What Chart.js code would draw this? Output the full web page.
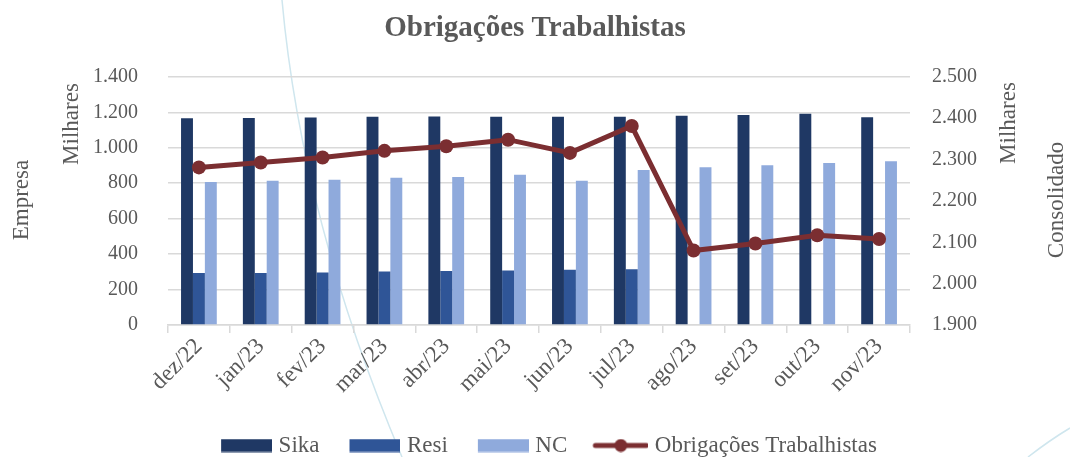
<!DOCTYPE html>
<html>
<head>
<meta charset="utf-8">
<script src="https://cdn.jsdelivr.net/npm/chart.js@4/dist/chart.umd.min.js"></script>
<style>
  html, body { margin: 0; padding: 0; background: #ffffff; }
  #wrap { width: 1070px; height: 457px; }
</style>
</head>
<body>
<div id="wrap"><canvas id="c" width="1070" height="457"></canvas></div>
<script>
const categories = ['dez/22','jan/23','fev/23','mar/23','abr/23','mai/23','jun/23','jul/23','ago/23','set/23','out/23','nov/23'];
const sika  = [1166, 1168, 1170, 1174, 1176, 1174, 1174, 1174, 1180, 1185, 1191, 1172];
const resi  = [293, 293, 296, 302, 304, 308, 312, 315, null, null, null, null];
const nc    = [806, 813, 820, 830, 835, 847, 813, 875, 890, 901, 914, 924];
const obrigacoes = [2281, 2293, 2305, 2321, 2332, 2348, 2316, 2381, 2080, 2097, 2117, 2108];
const leftTicks = [0, 200, 400, 600, 800, 1000, 1200, 1400];
const rightTicks = [1900, 2000, 2100, 2200, 2300, 2400, 2500];
const seriesNames = ['Sika', 'Resi', 'NC', 'Obrigações Trabalhistas'];
const titleText = 'Obrigações Trabalhistas';

const FONT = "'Liberation Serif', 'Times New Roman', serif";
const GRAY = '#595959';
const GRID = '#d9d9d9';
const COLORS = { sika: '#1F3864', resi: '#2F5597', nc: '#8FAADC', line: '#7B2E31' };

Chart.defaults.font.family = FONT;
Chart.defaults.color = GRAY;

function fmt(v) { return String(v).replace(/\B(?=(\d{3})+(?!\d))/g, '.'); }

function boxImg(color) {
  const c = document.createElement('canvas');
  c.width = 84; c.height = 14;
  const g = c.getContext('2d');
  g.fillStyle = color;
  g.fillRect(33, 0.5, 51, 13);
  return c;
}
function lineImg(color) {
  const c = document.createElement('canvas');
  c.width = 84; c.height = 14;
  const g = c.getContext('2d');
  g.strokeStyle = color; g.lineWidth = 5; g.lineCap = 'round';
  g.beginPath(); g.moveTo(31, 7); g.lineTo(82, 7); g.stroke();
  g.fillStyle = color;
  g.beginPath(); g.arc(56.5, 7, 6.5, 0, Math.PI * 2); g.fill();
  return c;
}
const legendImgs = [boxImg(COLORS.sika), boxImg(COLORS.resi), boxImg(COLORS.nc), lineImg(COLORS.line)];

const backdrop = {
  id: 'backdrop',
  beforeDraw(chart) {
    const ctx = chart.ctx;
    ctx.save();
    ctx.strokeStyle = '#cfe6ee';
    ctx.lineWidth = 1.5;
    ctx.beginPath();
    ctx.moveTo(282, 0);
    ctx.quadraticCurveTo(302, 221, 402, 457);
    ctx.stroke();
    ctx.beginPath();
    ctx.moveTo(1028, 457);
    ctx.quadraticCurveTo(1050, 440, 1070, 428);
    ctx.stroke();
    ctx.restore();
  }
};

const axisTitles = {
  id: 'axisTitles',
  afterDraw(chart) {
    const ctx = chart.ctx;
    ctx.save();
    ctx.fillStyle = GRAY;
    ctx.font = "23px " + FONT;
    ctx.textAlign = 'center';
    ctx.textBaseline = 'middle';
    const items = [
      ['Empresa', 22, 200],
      ['Milhares', 72, 124],
      ['Milhares', 1009, 123],
      ['Consolidado', 1057, 200]
    ];
    for (const [t, x, y] of items) {
      ctx.save();
      ctx.translate(x, y);
      ctx.rotate(-Math.PI / 2);
      ctx.fillText(t, 0, 0);
      ctx.restore();
    }
    ctx.restore();
  }
};

new Chart(document.getElementById('c'), {
  data: {
    labels: categories,
    datasets: [
      { type: 'bar', label: seriesNames[0], data: sika, backgroundColor: COLORS.sika, yAxisID: 'y', order: 1,
        categoryPercentage: 0.578, barPercentage: 1 },
      { type: 'bar', label: seriesNames[1], data: resi, backgroundColor: COLORS.resi, yAxisID: 'y', order: 1,
        categoryPercentage: 0.578, barPercentage: 1 },
      { type: 'bar', label: seriesNames[2], data: nc, backgroundColor: COLORS.nc, yAxisID: 'y', order: 1,
        categoryPercentage: 0.578, barPercentage: 1 },
      { type: 'line', label: seriesNames[3], data: obrigacoes, yAxisID: 'y1', order: 0,
        borderColor: COLORS.line, backgroundColor: COLORS.line, borderWidth: 5,
        pointRadius: 7, pointBackgroundColor: COLORS.line, pointBorderColor: COLORS.line, pointBorderWidth: 0,
        tension: 0, fill: false }
    ]
  },
  options: {
    responsive: false,
    animation: false,
    devicePixelRatio: 1,
    layout: { padding: { top: 0, left: 0, right: 0, bottom: -10 } },
    plugins: {
      title: {
        display: true, text: titleText, color: GRAY,
        font: { family: FONT, size: 29, weight: 'bold' },
        padding: { top: 11, bottom: 31 }
      },
      legend: {
        position: 'bottom',
        labels: {
          usePointStyle: true,
          pointStyleWidth: 74,
          padding: 2,
          color: GRAY,
          font: { family: FONT, size: 23 },
          sort: (a, b) => a.datasetIndex - b.datasetIndex,
          generateLabels(chart) {
            const items = Chart.defaults.plugins.legend.labels.generateLabels(chart);
            items.forEach(it => { it.pointStyle = legendImgs[it.datasetIndex]; });
            return items;
          }
        }
      },
      tooltip: { enabled: false }
    },
    scales: {
      x: {
        offset: true,
        grid: { display: true, drawOnChartArea: false, drawTicks: true, tickLength: 8, color: GRID, lineWidth: 1.5, offset: true },
        border: { display: true, color: GRID, width: 1.5 },
        ticks: { color: GRAY, font: { family: FONT, size: 23 }, minRotation: 45, maxRotation: 45, padding: 0, autoSkip: false },
        afterFit(s) { s.height = 107; }
      },
      y: {
        position: 'left',
        min: 0, max: 1400,
        afterBuildTicks(s) { s.ticks = leftTicks.map(v => ({ value: v })); },
        grid: { color: GRID, lineWidth: 1.5, drawTicks: false },
        border: { display: false },
        ticks: { color: GRAY, font: { family: FONT, size: 20 }, padding: 30, callback: v => fmt(v) },
        afterFit(s) { s.width = 168; }
      },
      y1: {
        position: 'right',
        min: 1900, max: 2500,
        afterBuildTicks(s) { s.ticks = rightTicks.map(v => ({ value: v })); },
        grid: { drawOnChartArea: false, drawTicks: false },
        border: { display: false },
        ticks: { color: GRAY, font: { family: FONT, size: 20 }, padding: 22, callback: v => fmt(v) },
        afterFit(s) { s.width = 160; }
      }
    }
  },
  plugins: [backdrop, axisTitles]
});
</script>
</body>
</html>
